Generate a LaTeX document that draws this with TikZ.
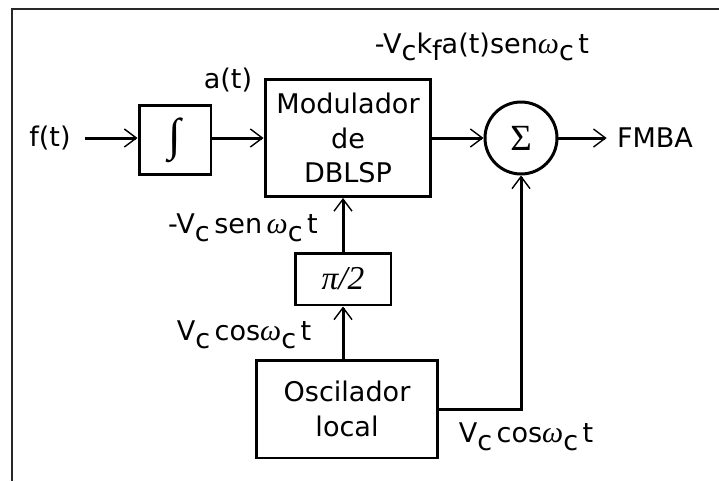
\documentclass[tikz,border=0pt]{standalone}
\usepackage{fontspec}
\setmainfont{DejaVu Sans}
\newfontfamily\serf{Liberation Serif}
\usetikzlibrary{arrows.meta,positioning}
\definecolor{frameGray}{RGB}{40,40,40}
\newcommand{\dn}[1]{\raisebox{-0.5ex}{#1}}
\newcommand{\Vc}{V\dn{c}}
\newcommand{\om}{{\serf\itshape\fontsize{17}{17}\selectfont ω}}
\tikzset{
  blk/.style={draw, line width=1.7pt, inner sep=0pt, align=center},
  sig/.style={line width=1.7pt, -{Straight Barb[length=0.24cm,width=0.36cm,line width=0.8pt]}},
  lbl/.style={inner sep=0pt},
}

\begin{document}
\begin{tikzpicture}[x=0.02cm,y=-0.02cm,font=\fontsize{15.4}{19.5}\selectfont]
\useasboundingbox (0,0) rectangle (719,481);
\fill[white] (0,0) rectangle (719,481);
\draw[frameGray, line width=1.1pt] (12,481)--(12,9)--(719,9);

% blocks
\node[lbl] (ft) at (50,138) {f(t)};
\node[blk, minimum width=1.44cm, minimum height=1.38cm] (int) at (175,140) {\serf\fontsize{26}{26}\selectfont ∫};
\node[blk, minimum width=3.32cm, minimum height=2.34cm] (mod) at (348,138) {Modulador\\de\\DBLSP};
\node[blk, circle, minimum size=1.44cm] (sum) at (521,138) {\serf\fontsize{21}{21}\selectfont Σ};
\node[lbl] (out) at (655,138) {FMBA};
\node[blk, minimum width=1.92cm, minimum height=1.04cm] (p2) at (343,279) {\serf\itshape\fontsize{19}{19}\selectfont π/2};
\node[blk, minimum width=3.64cm, minimum height=1.96cm] (osc) at (347,409) {Oscilador\\local};

% labels
\node[lbl] (la) at (228,80) {a(t)};
\node[lbl] (lmod) at (482,47) {-\Vc k\dn{f}a(t)sen\om\dn{c}\,t};
\node[lbl] (lsen) at (243,228) {-\Vc\,sen\,\om\dn{c}\,t};
\node[lbl] (lcosa) at (244,335) {\Vc\,cos\om\dn{c}\,t};
\node[lbl] (lcosb) at (526,437) {\Vc\,cos\om\dn{c}\,t};

% connections
\draw[sig] ([xshift=0.28cm]ft.east) -- (int.west |- ft.east);
\draw[sig] (int.east |- mod) -- (mod.west);
\draw[sig] (mod.east) -- (sum.west);
\draw[sig] (sum.east) -- ([xshift=-0.2cm]out.west);
\draw[sig] (p2.south |- osc.north) -- (p2.south);
\draw[sig] (p2.north) -- (p2.north |- mod.south);
\draw[sig] (osc.east) -- (sum.south |- osc.east) -- (sum.south);
\end{tikzpicture}
\end{document}
